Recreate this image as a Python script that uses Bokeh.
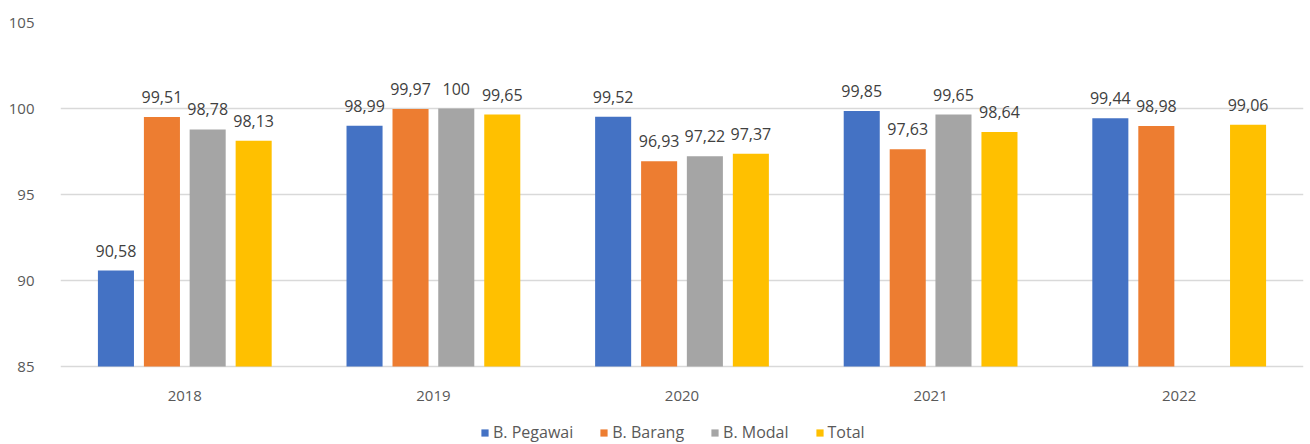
import math
from bokeh.plotting import figure
from bokeh.models import ColumnDataSource, FactorRange, FixedTicker, LabelSet, Legend, LegendItem, Range1d
from bokeh.core.properties import value
from bokeh.transform import dodge
from bokeh.embed import file_html
from bokeh.resources import INLINE

years = ["2018", "2019", "2020", "2021", "2022"]
series_names = ["B. Pegawai", "B. Barang", "B. Modal", "Total"]
b_pegawai = [90.58, 98.99, 99.52, 99.85, 99.44]
b_barang = [99.51, 99.97, 96.93, 97.63, 98.98]
b_modal = [98.78, 100.0, 97.22, 99.65, float("nan")]
total = [98.13, 99.65, 97.37, 98.64, 99.06]
y_ticks = [85, 90, 95, 100, 105]

colors = ["#4472C4", "#ED7D31", "#A5A5A5", "#FFC000"]
series = [b_pegawai, b_barang, b_modal, total]
offsets = [-0.277, -0.092, 0.092, 0.277]
FONT = "Open Sans"
TXT = "#595959"

# frame spans full height below the title gap; axis baseline 85 sits at y=366px
y_min = 85 - (444 - 366) / ((366 - 22) / 20.0)

p = figure(width=1310, height=444, x_range=FactorRange(*years), y_range=Range1d(y_min, 105),
           output_backend="svg", toolbar_location=None,
           min_border_left=60, min_border_right=7, min_border_top=22, min_border_bottom=0)
p.outline_line_color = None
p.background_fill_color = "white"
p.border_fill_color = "white"

def fmt(v):
    if v is None or (isinstance(v, float) and math.isnan(v)):
        return ""
    s = ("%.2f" % v).rstrip("0").rstrip(".")
    return s.replace(".", ",")

items = []
for name, vals, col, off in zip(series_names, series, colors, offsets):
    src = ColumnDataSource(dict(x=years, top=vals, txt=[fmt(v) for v in vals]))
    r = p.vbar(x=dodge("x", off, range=p.x_range), top="top", bottom=85, width=0.145,
               source=src, fill_color=col, line_color=None)
    items.append(LegendItem(label=name, renderers=[r]))
    lbl = LabelSet(x=dodge("x", off, range=p.x_range), y="top", text="txt", source=src,
                   y_offset=14, text_align="center", text_baseline="bottom",
                   text_font=value(FONT), text_font_size="16px", text_color="#404040")
    p.add_layout(lbl)

p.yaxis.ticker = FixedTicker(ticks=y_ticks)
p.yaxis.axis_line_color = None
p.yaxis.major_tick_line_color = None
p.yaxis.minor_tick_line_color = None
p.yaxis.major_label_standoff = 20
p.yaxis.major_label_text_font = FONT
p.yaxis.major_label_text_font_size = "15px"
p.yaxis.major_label_text_color = TXT

p.xaxis.fixed_location = 85
p.xaxis.axis_line_color = None
p.xaxis.major_tick_line_color = None
p.xaxis.major_label_standoff = 18
p.xaxis.major_label_text_font = FONT
p.xaxis.major_label_text_font_size = "15px"
p.xaxis.major_label_text_color = TXT

p.xgrid.grid_line_color = None
p.ygrid.grid_line_color = "#D9D9D9"
p.ygrid.grid_line_width = 1.5

legend = Legend(items=items, orientation="horizontal", location=(420, 1),
                glyph_width=9, glyph_height=9, label_standoff=4, spacing=26,
                padding=0, margin=0, border_line_color=None, background_fill_alpha=0,
                label_text_font=FONT, label_text_font_size="16px", label_text_color=TXT,
                label_height=17)
p.add_layout(legend, "center")

open("out.html", "w").write(file_html(p, INLINE))
